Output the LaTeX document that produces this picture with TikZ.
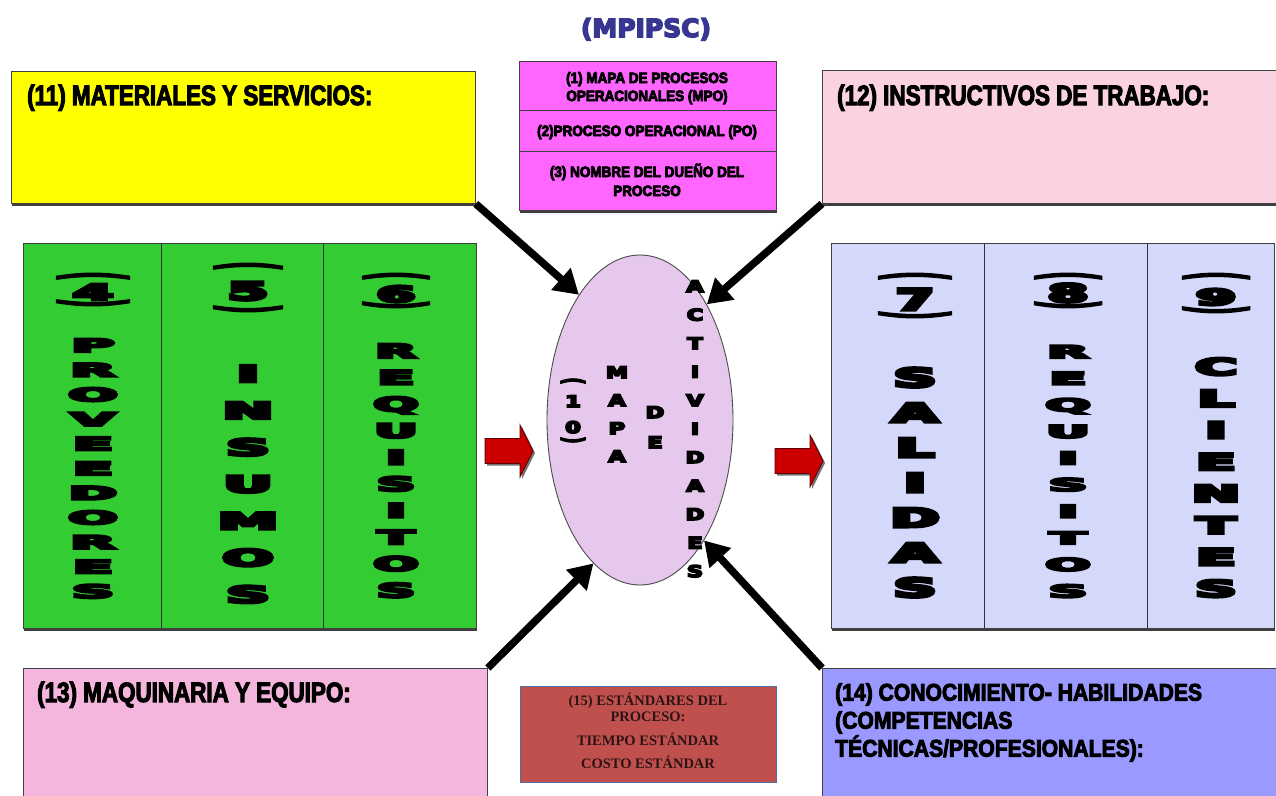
\documentclass[tikz,border=0pt]{standalone}
\usepackage{fontspec}
\setmainfont{Liberation Sans}
\newfontfamily\hdrfont[FakeStretch=0.8]{Liberation Sans Bold}
\newfontfamily\hdrmid[FakeStretch=0.88]{Liberation Sans Bold}
\newfontfamily\hdrwide[FakeStretch=0.9]{Liberation Sans Bold}
\newfontfamily\heavyfont{DejaVu Sans Bold}
\newfontfamily\boxserif{Liberation Serif Bold}
\usetikzlibrary{shapes.geometric,shadows,arrows.meta}

\definecolor{titleblue}{RGB}{55,55,145}
\definecolor{matyellow}{RGB}{255,255,0}
\definecolor{mpomag}{RGB}{255,102,255}
\definecolor{instpink}{RGB}{250,210,226}
\definecolor{provgreen}{RGB}{51,204,51}
\definecolor{salblue}{RGB}{212,216,250}
\definecolor{maqpink}{RGB}{244,182,220}
\definecolor{conlav}{RGB}{153,153,255}
\definecolor{stdred}{RGB}{192,80,77}
\definecolor{stdedge}{RGB}{80,110,160}
\definecolor{stdtext}{RGB}{45,20,20}
\definecolor{actlilac}{RGB}{230,200,236}
\definecolor{flowred}{RGB}{204,0,0}
\definecolor{flowdark}{RGB}{90,0,0}

% heavier text: glyphs filled and stroked (#1 stroke width in bp, #2 colour, #3 text)
\newcommand\thk[3]{{\color{#2}\special{pdf:literal direct #1 w 2 Tr}#3\special{pdf:literal direct 0 Tr}}}

% a word written downwards, one stretched letter per line
% #1 name, #2 x, #3 first baseline, #4 step, #5 x-scale, #6 y-scale, #7 letters
\newcommand\vword[7]{%
  \foreach \ch [count=\k from 0] in {#7}
    \node[vletter] (#1\k) at (#2,{#3+\k*#4}) {\scalebox{#5}[#6]{\thk{2.3}{black}{\ch}}};}
% the same for the smaller letters inside the activity map
\newcommand\eword[5]{%
  \foreach \ch [count=\k from 0] in {#5}
    \node[eletter] (#1\k) at (#2,{#3+\k*#4}) {\scalebox{1.4}[1]{\thk{1.6}{black}{\ch}}};}

\tikzset{
  panel/.style={draw=black!75, line width=0.8pt, anchor=north west, inner sep=0pt,
    drop shadow={shadow xshift=1pt, shadow yshift=-2.5pt, fill=black!75, opacity=1}},
  hdr/.style={anchor=base west, inner sep=0pt, font=\hdrfont\fontsize{28}{28}\selectfont},
  magtxt/.style={anchor=base, inner sep=0pt, font=\hdrwide\fontsize{15}{15}\selectfont},
  stdtxt/.style={anchor=base, inner sep=0pt, text=stdtext, font=\boxserif\fontsize{14.5}{14.5}\selectfont},
  vletter/.style={anchor=base, inner sep=0pt, font=\heavyfont\fontsize{20}{20}\selectfont},
  eletter/.style={anchor=base, inner sep=0pt, font=\heavyfont\fontsize{16}{16}\selectfont},
  paren/.style={anchor=center, inner sep=0pt, rotate=-90, font=\heavyfont\fontsize{20}{20}\selectfont},
  eparen/.style={anchor=center, inner sep=0pt, rotate=-90, font=\heavyfont\fontsize{16}{16}\selectfont},
  blk/.style={line width=7.5pt, black, -{Triangle[length=24pt,width=28pt]}},
  flowpic/.pic={
    \fill[black!55] (2,-10.5) -- (37,-10.5) -- (37,-24) -- (50,2) -- (37,28) -- (37,14.5) -- (2,14.5) -- cycle;
    \filldraw[fill=flowred, draw=flowdark, line width=0.8pt]
      (0,-12.5) -- (35,-12.5) -- (35,-26) -- (48,0) -- (35,26) -- (35,12.5) -- (0,12.5) -- cycle;
  },
}

\begin{document}
\begin{tikzpicture}[x=1pt, y=-1pt]
\useasboundingbox (0,0) rectangle (1276,795);
\fill[white] (0,0) rectangle (1276,795);

% title
\node[anchor=base, inner sep=0pt, text=titleblue,
  font=\heavyfont\fontsize{25}{25}\selectfont] (title) at (646,37) {\thk{1.5}{titleblue}{(MPIPSC)}};

% top row
\node[panel, fill=matyellow, minimum width=464pt, minimum height=132pt] (b11) at (11,71) {};
\node[hdr] (t11) at (27,105) {\thk{1}{black}{(11) MATERIALES Y SERVICIOS:}};

\node[panel, fill=mpomag, minimum width=257pt, minimum height=149pt] (mpo) at (519,61) {};
\draw[black!75, line width=0.8pt] (519,110) -- (776,110);
\draw[black!75, line width=0.8pt] (519,151) -- (776,151);
\node[magtxt] (m1) at (647,83) {\thk{0.8}{black}{(1) MAPA DE PROCESOS}};
\node[magtxt] (m1b) at (647,101) {\thk{0.8}{black}{OPERACIONALES (MPO)}};
\node[magtxt] (m2) at (647,136) {\thk{0.8}{black}{(2)PROCESO OPERACIONAL (PO)}};
\node[magtxt] (m3) at (647,177) {\thk{0.8}{black}{(3) NOMBRE DEL DUEÑO DEL}};
\node[magtxt] (m3b) at (647,196) {\thk{0.8}{black}{PROCESO}};

\node[panel, fill=instpink, minimum width=470pt, minimum height=133pt] (b12) at (822,70) {};
\node[hdr] (t12) at (837,105) {\thk{1}{black}{(12) INSTRUCTIVOS DE TRABAJO:}};

% inputs panel
\node[panel, fill=provgreen, minimum width=453pt, minimum height=385pt] (gin) at (23,243) {};
\draw[black!80, line width=0.8pt] (161,243) -- (161,628);
\draw[black!80, line width=0.8pt] (323,243) -- (323,628);

\node[paren] (p4a) at (93,276) {\scalebox{1}[3.9]{\thk{1.2}{black}{(}}};
\node[vletter] (n4) at (93,300) {\scalebox{2.9}[1.1]{\thk{2.3}{black}{4}}};
\node[paren] (p4b) at (93,303) {\scalebox{1}[3.9]{\thk{1.2}{black}{)}}};
\vword{pv}{93}{352}{24.6}{2.9}{0.92}{P,R,O,V,E,E,D,O,R,E,S}

\node[paren] (p5a) at (248,266) {\scalebox{1}[3.7]{\thk{1.2}{black}{(}}};
\node[vletter] (n5) at (248,300) {\scalebox{2.9}[1.25]{\thk{2.3}{black}{5}}};
\node[paren] (p5b) at (248,309) {\scalebox{1}[3.7]{\thk{1.2}{black}{)}}};
\vword{in}{248}{382}{36.8}{3.0}{1.15}{I,N,S,U,M,O,S}

\node[paren] (p6a) at (396,276) {\scalebox{1}[3.6]{\thk{1.2}{black}{(}}};
\node[vletter] (n6) at (396,302) {\scalebox{2.8}[1.1]{\thk{2.3}{black}{6}}};
\node[paren] (p6b) at (396,305) {\scalebox{1}[3.6]{\thk{1.2}{black}{)}}};
\vword{rq}{396}{358}{26.6}{2.65}{0.98}{R,E,Q,U,I,S,I,T,O,S}

% outputs panel
\node[panel, fill=salblue, minimum width=443pt, minimum height=385pt] (gout) at (831,243) {};
\draw[black!80, line width=0.8pt] (984,243) -- (984,628);
\draw[black!80, line width=0.8pt] (1147,243) -- (1147,628);

\node[paren] (p7a) at (915,276) {\scalebox{1}[3.9]{\thk{1.2}{black}{(}}};
\node[vletter] (n7) at (915,310) {\scalebox{2.7}[1.45]{\thk{2.3}{black}{7}}};
\node[paren] (p7b) at (915,315) {\scalebox{1}[3.9]{\thk{1.2}{black}{)}}};
\vword{sa}{915}{387}{35}{2.95}{1.3}{S,A,L,I,D,A,S}

\node[paren] (p8a) at (1068,276) {\scalebox{1}[3.6]{\thk{1.2}{black}{(}}};
\node[vletter] (n8) at (1068,302) {\scalebox{2.9}[1.25]{\thk{2.3}{black}{8}}};
\node[paren] (p8b) at (1068,305) {\scalebox{1}[3.6]{\thk{1.2}{black}{)}}};
\vword{rs}{1068}{358}{26.6}{2.65}{0.87}{R,E,Q,U,I,S,I,T,O,S}

\node[paren] (p9a) at (1216,276) {\scalebox{1}[3.6]{\thk{1.2}{black}{(}}};
\node[vletter] (n9) at (1216,305) {\scalebox{2.9}[1.1]{\thk{2.3}{black}{9}}};
\node[paren] (p9b) at (1216,310) {\scalebox{1}[3.6]{\thk{1.2}{black}{)}}};
\vword{cl}{1216}{375}{31.7}{2.85}{1.15}{C,L,I,E,N,T,E,S}

% activity map
\node[ellipse, draw=black!70, line width=0.9pt, fill=actlilac,
  minimum width=186pt, minimum height=330pt, inner sep=0pt] (ell) at (640,420) {};
\node[eparen] (p10a) at (573,381) {\scalebox{1}[1.7]{\thk{1}{black}{(}}};
\node[eletter] (n10a) at (573,407) {\scalebox{1.4}[1]{\thk{1.6}{black}{1}}};
\node[eletter] (n10b) at (573,433) {\scalebox{1.4}[1]{\thk{1.6}{black}{0}}};
\node[eparen] (p10b) at (573,440) {\scalebox{1}[1.7]{\thk{1}{black}{)}}};
\eword{mp}{617}{378}{28}{M,A,P,A}
\eword{de}{655}{418}{30}{D,E}
\eword{ac}{695}{292}{28.5}{A,C,T,I,V,I,D,A,D,E,S}

% flow arrows between panels
\pic (fin) at (485,451) {flowpic};
\pic (fout) at (775,461) {flowpic};

% bottom row
\node[panel, fill=maqpink, minimum width=464pt, minimum height=140pt] (b13) at (23,668) {};
\node[hdr] (t13) at (37,702) {\thk{1}{black}{(13) MAQUINARIA Y EQUIPO:}};

\node[draw=stdedge, line width=1pt, fill=stdred, anchor=north west, inner sep=0pt,
  minimum width=256pt, minimum height=96pt] (b15) at (520,686) {};
\node[stdtxt] (s1) at (648,705) {(15) ESTÁNDARES DEL};
\node[stdtxt] (s2) at (648,721) {PROCESO:};
\node[stdtxt] (s3) at (648,745) {TIEMPO ESTÁNDAR};
\node[stdtxt] (s4) at (648,768) {COSTO ESTÁNDAR};

\node[panel, fill=conlav, minimum width=470pt, minimum height=140pt] (b14) at (822,668) {};
\node[anchor=north west, inner sep=0pt, align=left,
  font=\hdrmid\fontsize{24}{28}\selectfont] (t14) at (835,683)
  {\thk{0.9}{black}{(14) CONOCIMIENTO- HABILIDADES}\\
   \thk{0.9}{black}{(COMPETENCIAS}\\
   \thk{0.9}{black}{TÉCNICAS/PROFESIONALES):}};

% resources feeding the activity map
\draw[blk] (b11.south east) -- (ell.116);
\draw[blk] (b12.south west) -- (ell.60);
\draw[blk] (b13.north east) -- (ell.252);
\draw[blk] (b14.north west) -- (ell.298);
\end{tikzpicture}
\end{document}
